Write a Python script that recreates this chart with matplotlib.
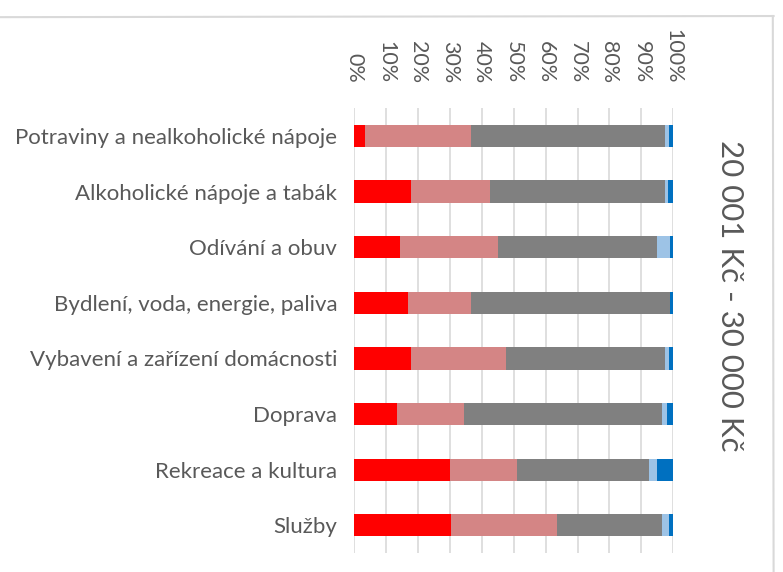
import matplotlib
matplotlib.use("Agg")
import matplotlib.pyplot as plt
from matplotlib.lines import Line2D
import numpy as np

plt.rcParams['font.family'] = ['Lato', 'DejaVu Sans']

categories = [
    "Potraviny a nealkoholické nápoje",
    "Alkoholické nápoje a tabák",
    "Odívání a obuv",
    "Bydlení, voda, energie, paliva",
    "Vybavení a zařízení domácnosti",
    "Doprava",
    "Rekreace a kultura",
    "Služby",
]
s1 = [3.5, 18.0, 14.5, 17.0, 18.0, 13.5, 30.0, 30.5]
s2 = [33.0, 24.5, 30.5, 19.5, 29.5, 21.0, 21.0, 33.0]
s3 = [61.0, 55.0, 50.0, 62.5, 50.0, 62.0, 41.5, 33.0]
s4 = [1.0, 0.7, 4.0, 0.0, 1.0, 1.5, 2.5, 2.0]
s5 = [1.5, 1.8, 1.0, 1.0, 1.5, 2.0, 5.0, 1.5]
series = [s1, s2, s3, s4, s5]
colors = ["#FF0000", "#D48585", "#808080", "#9DC3E6", "#0070C0"]
tick_vals = np.arange(0, 101, 10)
tick_labels = [f"{v}%" for v in tick_vals]
side_label = "20 001 Kč - 30 000 Kč"

fig = plt.figure(figsize=(7.83, 5.72), dpi=100)
ax = fig.add_axes([0.452, 0.033, 0.408, 0.778])

y = np.arange(len(categories))
left = np.zeros(len(categories))
tot = np.array([sum(s[i] for s in series) for i in range(len(categories))])
for vals, c in zip(series, colors):
    pct = np.array(vals, dtype=float) / tot * 100
    ax.barh(y, pct, left=left, height=0.4, color=c, edgecolor='none', zorder=3)
    left += pct

ax.set_xlim(0, 100)
ax.set_ylim(len(categories) - 0.5, -0.5)
ax.xaxis.tick_top()
ax.set_xticks(tick_vals)
ax.set_xticklabels(tick_labels, rotation=-90, va='bottom', ha='center')
ax.tick_params(axis='x', length=0, pad=18, labelsize=15.5, labelcolor='#595959')
ax.set_yticks(y)
ax.set_yticklabels(categories)
ax.tick_params(axis='y', length=0, pad=12, labelsize=16, labelcolor='#595959')
ax.grid(axis='x', color='#D9D9D9', linewidth=1.2, zorder=0)
for s in ax.spines.values():
    s.set_visible(False)

fig.text(0.932, 0.483, side_label, rotation=-90, ha='center', va='center',
         fontsize=22.5, color='#595959')

# chart frame (partially visible)
fig.add_artist(Line2D([0, 0.988], [0.97, 0.972], transform=fig.transFigure,
                      color='#D9D9D9', linewidth=1.5))
fig.add_artist(Line2D([0.987, 0.988], [0.972, 0.0], transform=fig.transFigure,
                      color='#D9D9D9', linewidth=1.5))

fig.savefig("out.png", dpi=100)
